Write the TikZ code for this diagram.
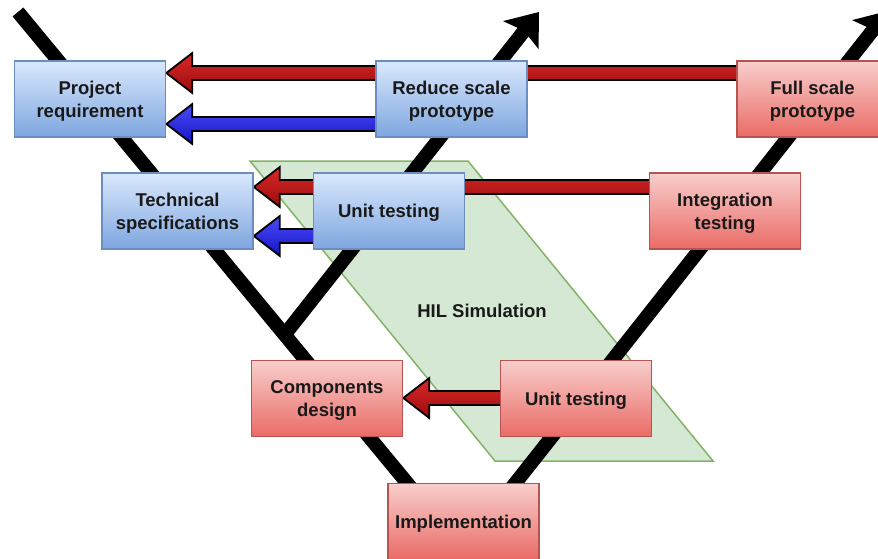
\documentclass[tikz,border=0pt]{standalone}
\usepackage{fontspec}
\setmainfont{Liberation Sans}
\usetikzlibrary{arrows.meta,calc}

\definecolor{bluetop}{HTML}{DAE8FC}
\definecolor{bluebot}{HTML}{7EA6E0}
\definecolor{bluestroke}{HTML}{6C8EBF}
\definecolor{redtop}{HTML}{F8CECC}
\definecolor{redbot}{HTML}{EA6B66}
\definecolor{redstroke}{HTML}{B85450}
\definecolor{hilfill}{HTML}{D5E8D4}
\definecolor{hilstroke}{HTML}{82B366}
\definecolor{arrowredtop}{RGB}{222,40,40}
\definecolor{arrowredbot}{RGB}{150,12,12}
\definecolor{arrowbluetop}{RGB}{75,75,250}
\definecolor{arrowbluebot}{RGB}{20,20,195}

% drawing layers: band and V lines at the bottom, feedback arrows above them
\pgfdeclarelayer{vmodel}
\pgfdeclarelayer{feedback}
\pgfsetlayers{vmodel,feedback,main}

% left-pointing block arrow: shaft from #1 to the tip at #2
\newcommand\blockarrow[3]{%
  \draw[#3] let \p1=(#1), \p2=(#2) in
    (\x1,\y1-7pt) -- (\x2+26pt,\y1-7pt) -- (\x2+26pt,\y1-20pt) -- (\x2,\y1)
    -- (\x2+26pt,\y1+20pt) -- (\x2+26pt,\y1+7pt) -- (\x1,\y1+7pt) -- cycle;}

\tikzset{
  stage/.style={minimum width=151pt, minimum height=76pt, inner sep=0pt,
    align=center, font=\fontsize{18.5}{23}\selectfont\bfseries,
    text depth=0pt, text=black!90, line width=1.6pt},
  bluestage/.style={stage, draw=bluestroke, top color=bluetop, bottom color=bluebot},
  redstage/.style={stage, draw=redstroke, top color=redtop, bottom color=redbot},
  vline/.style={line width=14pt, black, line join=miter},
  vtip/.style={-{Stealth[length=29pt, width=44pt, inset=5pt]}},
  redarrow/.style={draw=black, line width=1.8pt, top color=arrowredtop, bottom color=arrowredbot},
  bluearrow/.style={draw=black, line width=1.8pt, top color=arrowbluetop, bottom color=arrowbluebot},
}

\begin{document}
\begin{tikzpicture}[x=1pt, y=-1pt]
\useasboundingbox (0,0) rectangle (878,559);
\clip (0,0) rectangle (878,559);

% stage boxes
\path
  (90,99)       node[bluestage] (pr)   {Project\\requirement}
  (451.5,99)    node[bluestage] (rsp)  {Reduce scale\\prototype}
  (812.5,99)    node[redstage]  (fsp)  {Full scale\\prototype}
  (177.5,211)   node[bluestage] (ts)   {Technical\\specifications}
  (389,211)     node[bluestage] (ut1)  {Unit testing}
  (725,211)     node[redstage]  (it)   {Integration\\testing}
  (327,398.5)   node[redstage]  (cd)   {Components\\design}
  (576,398.5)   node[redstage]  (ut2)  {Unit testing}
  (463.5,521.5) node[redstage]  (impl) {Implementation};

\begin{pgfonlayer}{vmodel}
  % HIL simulation band
  \draw[fill=hilfill, draw=hilstroke, line width=1.5pt]
    (250,161) -- (468,161) -- (713,461) -- (495,461) -- cycle;
  \node[font=\fontsize{18.5}{23}\selectfont\bfseries, text=black!90] (hil) at (482,311) {HIL Simulation};

  % V-model lines
  \coordinate (vtop) at (18,12);
  \coordinate (vbot) at (462.5,550);
  \coordinate (vend) at (888,11);
  \coordinate (ijoin) at (286,333);
  \coordinate (iend) at (539,12);
  \draw[vline] (vtop) -- (vbot);
  \draw[vline, vtip] (vbot) -- (vend);
  \draw[vline, vtip] (ijoin) -- (iend);
\end{pgfonlayer}

% heights of the feedback arrows
\coordinate (lvA) at (0,73);
\coordinate (lvB) at (0,124);
\coordinate (lvC) at (0,187);
\coordinate (lvD) at (0,236);
\coordinate (lvE) at (0,398);

\begin{pgfonlayer}{feedback}
  \blockarrow{fsp.center |- lvA}{pr.east |- lvA}{redarrow}
  \blockarrow{rsp.center |- lvB}{pr.east |- lvB}{bluearrow}
  \blockarrow{it.center |- lvC}{ts.east |- lvC}{redarrow}
  \blockarrow{ut1.center |- lvD}{ts.east |- lvD}{bluearrow}
  \blockarrow{ut2.center |- lvE}{cd.east |- lvE}{redarrow}
\end{pgfonlayer}
\end{tikzpicture}
\end{document}
